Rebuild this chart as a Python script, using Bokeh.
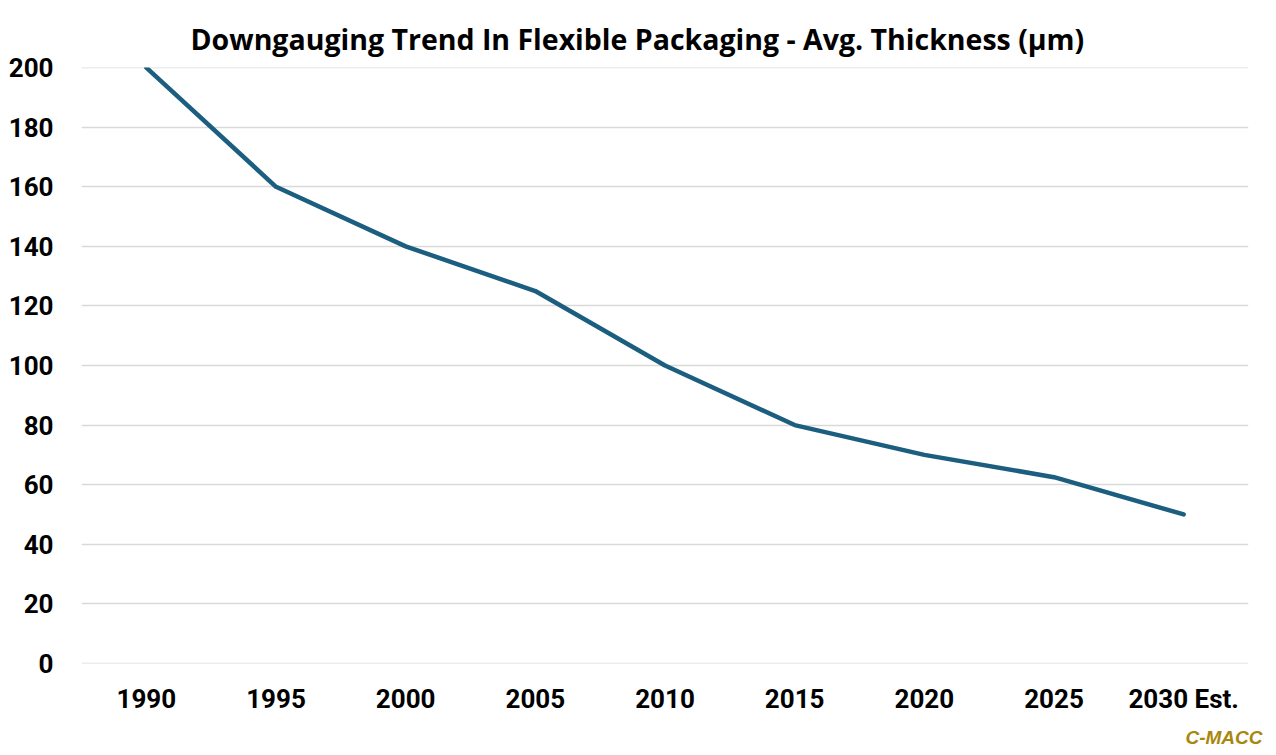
from bokeh.plotting import figure
from bokeh.models import FactorRange, Range1d, Title, FixedTicker
from bokeh.embed import file_html
from bokeh.resources import INLINE

years = ["1990", "1995", "2000", "2005", "2010", "2015", "2020", "2025", "2030 Est."]
thickness = [200, 160, 140, 125, 100, 80, 70, 62.5, 50]
y_ticks = [0, 20, 40, 60, 80, 100, 120, 140, 160, 180, 200]
title_text = "Downgauging Trend In Flexible Packaging - Avg. Thickness (µm)"
source_text = "C-MACC"

p = figure(width=1268, height=755, output_backend="svg", toolbar_location=None,
           x_range=FactorRange(*years, range_padding=0), y_range=Range1d(-0.05, 200.05),
           min_border_left=81, min_border_right=20, min_border_top=67, min_border_bottom=91)
p.title.visible = False
p.outline_line_color = None
p.background_fill_color = "white"

p.line(x=years, y=thickness, line_color="#1b5e7f", line_width=4.5, line_join="round", line_cap="round")

p.yaxis.ticker = FixedTicker(ticks=y_ticks)
p.xgrid.grid_line_color = None
p.ygrid.grid_line_color = "#d9d9d9"
p.ygrid.grid_line_width = 1.5
for ax in (p.xaxis, p.yaxis):
    ax.axis_line_color = None
    ax.major_tick_line_color = None
    ax.minor_tick_line_color = None
    ax.major_label_text_font = "Roboto"
    ax.major_label_text_font_style = "bold"
    ax.major_label_text_font_size = "26px"
    ax.major_label_text_color = "black"
p.yaxis.major_label_standoff = 22
p.xaxis.major_label_standoff = 14

p.add_layout(Title(text=title_text, align="left", offset=109, standoff=19,
                   text_font="Open Sans", text_font_style="bold", text_font_size="28.5px",
                   text_color="black"), "above")
p.add_layout(Title(text=source_text, align="right", offset=-14, standoff=16,
                   text_font="Liberation Sans", text_font_style="bold italic", text_font_size="19px",
                   text_color="#a8870c"), "below")

open("out.html", "w").write(file_html(p, INLINE))
